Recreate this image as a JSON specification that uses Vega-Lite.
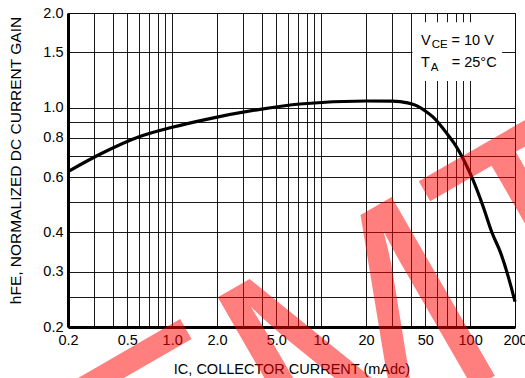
{
  "$schema": "https://vega.github.io/schema/vega-lite/v6.json",
  "width": 447,
  "height": 314,
  "autosize": {"type": "none"},
  "padding": {"left": 68, "top": 13, "right": 10, "bottom": 51},
  "background": "white",
  "config": {
    "font": "Liberation Sans",
    "view": {"stroke": "#666", "strokeWidth": 1}
  },
  "datasets": {
    "curve": [
      {"x": 0.2, "y": 0.625},
      {"x": 0.33, "y": 0.711},
      {"x": 0.6, "y": 0.807},
      {"x": 1.0, "y": 0.865},
      {"x": 1.7, "y": 0.917},
      {"x": 3.9, "y": 0.987},
      {"x": 7.2, "y": 1.026},
      {"x": 20, "y": 1.049},
      {"x": 30, "y": 1.048},
      {"x": 38, "y": 1.035},
      {"x": 44, "y": 1.012},
      {"x": 50, "y": 0.975},
      {"x": 56, "y": 0.935},
      {"x": 63, "y": 0.88},
      {"x": 70, "y": 0.825},
      {"x": 78, "y": 0.77},
      {"x": 85, "y": 0.72},
      {"x": 95, "y": 0.65},
      {"x": 105, "y": 0.585},
      {"x": 122, "y": 0.485},
      {"x": 140, "y": 0.4},
      {"x": 160, "y": 0.345},
      {"x": 180, "y": 0.29},
      {"x": 200, "y": 0.241}
    ],
    "box": [{"x": 41, "x2": 164, "y": 1.868, "y2": 1.215}],
    "note": [
      {"x": 46.8, "y": 1.578, "text": "V"},
      {"x": 75, "y": 1.578, "text": "= 10 V"},
      {"x": 46.8, "y": 1.346, "text": "T"},
      {"x": 75.2, "y": 1.346, "text": "= 25°C"}
    ],
    "sub": [
      {"x": 55.2, "y": 1.547, "text": "CE"},
      {"x": 54.4, "y": 1.304, "text": "A"}
    ],
    "wm": [{"x": 0.03388, "y": 0.014116, "text": "SEMTECH"}]
  },
  "layer": [
    {
      "data": {"name": "box"},
      "mark": {"type": "rect", "color": "white"},
      "encoding": {
        "x": {"field": "x", "type": "quantitative"},
        "x2": {"field": "x2"},
        "y": {"field": "y", "type": "quantitative"},
        "y2": {"field": "y2"}
      }
    },
    {
      "data": {"name": "curve"},
      "mark": {"type": "line", "color": "#000", "strokeWidth": 3.2, "interpolate": "monotone"},
      "encoding": {
        "x": {
          "field": "x",
          "type": "quantitative",
          "scale": {"type": "log", "domain": [0.2, 200], "nice": false},
          "axis": {
            "values": [0.2, 0.3, 0.4, 0.5, 0.6, 0.7, 0.8, 0.9, 1, 2, 3, 4, 5, 6, 7, 8, 9, 10, 20, 30, 40, 50, 60, 70, 80, 90, 100, 200],
            "labelExpr": "indexof([0.2, 0.5, 1, 2, 5, 10, 20, 50, 100, 200], datum.value) >= 0 ? (datum.value < 10 ? format(datum.value, '.1f') : format(datum.value, 'd')) : ''",
            "grid": true,
            "gridColor": "#000",
            "gridOpacity": 0.9,
            "gridWidth": 1,
            "ticks": false,
            "domainColor": "#000",
            "domainWidth": 3,
            "labelFontSize": 14.5,
            "labelColor": "#000",
            "labelPadding": 6,
            "labelFlush": false,
            "labelOverlap": false,
            "title": "IC, COLLECTOR CURRENT (mAdc)",
            "titleFontSize": 14.5,
            "titleFontWeight": "normal",
            "titleColor": "#000",
            "titlePadding": 16
          }
        },
        "y": {
          "field": "y",
          "type": "quantitative",
          "scale": {"type": "log", "domain": [0.2, 2], "nice": false},
          "axis": {
            "values": [0.2, 0.25, 0.3, 0.4, 0.5, 0.6, 0.7, 0.8, 0.9, 1, 1.5, 2],
            "labelExpr": "indexof([0.25, 0.5, 0.7, 0.9], datum.value) >= 0 ? '' : format(datum.value, '.1f')",
            "grid": true,
            "gridColor": "#000",
            "gridOpacity": 0.9,
            "gridWidth": 1,
            "ticks": false,
            "domainColor": "#000",
            "domainWidth": 3,
            "labelFontSize": 14.5,
            "labelColor": "#000",
            "labelPadding": 5,
            "labelFlush": false,
            "labelOverlap": false,
            "title": "hFE, NORMALIZED DC CURRENT GAIN",
            "titleFontSize": 15.5,
            "titleFontWeight": "normal",
            "titleColor": "#000",
            "titlePadding": 19,
            "titleY": 147
          }
        }
      }
    },
    {
      "data": {"name": "note"},
      "mark": {"type": "text", "align": "left", "baseline": "alphabetic", "fontSize": 14.5, "color": "#000"},
      "encoding": {
        "x": {"field": "x", "type": "quantitative"},
        "y": {"field": "y", "type": "quantitative"},
        "text": {"field": "text"}
      }
    },
    {
      "data": {"name": "sub"},
      "mark": {"type": "text", "align": "left", "baseline": "alphabetic", "fontSize": 11.5, "color": "#000"},
      "encoding": {
        "x": {"field": "x", "type": "quantitative"},
        "y": {"field": "y", "type": "quantitative"},
        "text": {"field": "text"}
      }
    },
    {
      "data": {"name": "wm"},
      "mark": {"type": "text", "align": "left", "baseline": "alphabetic", "font": "Liberation Sans", "fontSize": 300, "angle": -30, "color": "#ff0000", "opacity": 0.5},
      "encoding": {
        "x": {"field": "x", "type": "quantitative"},
        "y": {"field": "y", "type": "quantitative"},
        "text": {"field": "text"}
      }
    }
  ]
}
